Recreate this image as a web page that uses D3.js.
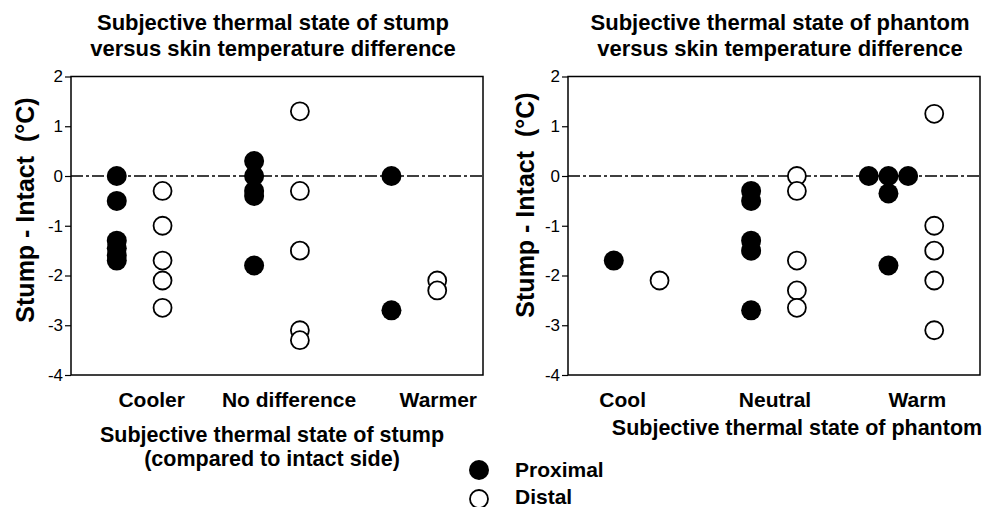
<!DOCTYPE html>
<html>
<head>
<meta charset="utf-8">
<script src="https://cdn.jsdelivr.net/npm/d3@7"></script>
<style>
  body { margin: 0; background: #fff; }
  text { font-family: "Liberation Sans", Arial, sans-serif; fill: #000; }
</style>
</head>
<body>
<script>
//data (degrees C, stump minus intact side)
var yTickValues = [-4, -3, -2, -1, 0, 1, 2];
var seriesNames = ["Proximal", "Distal"];

var stumpCategories = ["Cooler", "No difference", "Warmer"];
var stumpProximal = [[0, -0.5, -1.3, -1.45, -1.6, -1.7], [0.3, 0, -0.3, -0.4, -1.8], [0, -2.7]];
var stumpDistal = [[-0.3, -1.0, -1.7, -2.1, -2.65], [1.3, -0.3, -1.5, -3.1, -3.3], [-2.1, -2.3]];

var phantomCategories = ["Cool", "Neutral", "Warm"];
var phantomProximal = [[-1.7], [-0.3, -0.5, -1.3, -1.5, -2.7], [0, 0, 0, -0.35, -1.8]];
var phantomDistal = [[-2.1], [0, -0.3, -1.7, -2.3, -2.65], [1.25, -1.0, -1.5, -2.1, -3.1]];

//SVG area
var svgWidth = 991;
var svgHeight = 507;
var plotTop = 76.5;
var plotBottom = 375;
var plotWidth = 412;
var dotR = 10;

var svg = d3.select("body")
  .append("svg")
  .attr("width", svgWidth)
  .attr("height", svgHeight);

svg.append("rect")
  .attr("width", svgWidth)
  .attr("height", svgHeight)
  .attr("fill", "#fff");

//build point list for one panel, spreading equal values sideways
function buildPoints(proximal, distal) {
  var pts = [];
  [proximal, distal].forEach(function(series, s) {
    series.forEach(function(values, g) {
      var counts = {};
      values.forEach(function(v) { counts[v] = (counts[v] || 0) + 1; });
      var seen = {};
      values.forEach(function(v) {
        var k = seen[v] || 0;
        seen[v] = k + 1;
        pts.push({
          group: g,
          series: s,
          value: v,
          spread: k - (counts[v] - 1) / 2
        });
      });
    });
  });
  return pts;
}

function drawPanel(opts) {
  var g = svg.append("g")
    .attr("transform", `translate(${opts.left}, 0)`);

  //slot scale: each category takes 3 slots, proximal at 1, distal at 2
  var xScale = d3.scaleLinear()
    .domain([0, 9])
    .range([0, plotWidth]);
  var yScale = d3.scaleLinear()
    .domain([-4, 2])
    .range([plotBottom, plotTop]);

  //frame
  g.append("rect")
    .attr("x", 0)
    .attr("y", plotTop)
    .attr("width", plotWidth)
    .attr("height", plotBottom - plotTop)
    .attr("fill", "none")
    .attr("stroke", "#000")
    .attr("stroke-width", 1.5);

  //y axis
  var leftAxis = d3.axisLeft(yScale)
    .tickValues(yTickValues)
    .tickSize(6)
    .tickPadding(2)
    .tickFormat(d3.format("d"));
  var yAxis = g.append("g").call(leftAxis);
  yAxis.select(".domain").remove();
  yAxis.selectAll("line").attr("stroke-width", 1.2);
  yAxis.selectAll("text")
    .attr("font-size", 17)
    .attr("font-family", "Liberation Sans, Arial, sans-serif")
    .text(function(d) { return d < 0 ? "-" + Math.abs(d) : d; });

  //zero reference line
  g.append("line")
    .attr("x1", 0)
    .attr("x2", plotWidth)
    .attr("y1", yScale(0))
    .attr("y2", yScale(0))
    .attr("stroke", "#000")
    .attr("stroke-width", 1.6)
    .attr("stroke-dasharray", "12,3,3,3");

  //points
  var pts = buildPoints(opts.proximal, opts.distal);
  g.selectAll("circle.dot")
    .data(pts)
    .enter()
    .append("circle")
    .attr("class", "dot")
    .attr("cx", d => xScale(d.group * 3 + 1 + d.series + d.spread * 0.43))
    .attr("cy", d => yScale(d.value))
    .attr("r", d => d.series === 0 ? dotR : dotR - 1)
    .attr("fill", d => d.series === 0 ? "#000" : "#fff")
    .attr("stroke", "#000")
    .attr("stroke-width", d => d.series === 0 ? 0 : 1.8);

  //category labels
  g.selectAll("text.cat")
    .data(opts.categories)
    .enter()
    .append("text")
    .attr("class", "cat")
    .attr("x", (d, i) => xScale(i * 3 + 1.5) + opts.labelNudge[i])
    .attr("y", 407)
    .attr("text-anchor", "middle")
    .attr("font-size", 21)
    .attr("font-weight", "bold")
    .text(d => d);

  //y title
  g.append("text")
    .attr("transform", `translate(${opts.yTitleX}, ${opts.yTitleY}) rotate(-90)`)
    .attr("text-anchor", "middle")
    .attr("font-size", 25)
    .attr("font-weight", "bold")
    .attr("xml:space", "preserve")
    .text("Stump - Intact  (°C)");

  //top title
  var title = g.append("text")
    .attr("text-anchor", "middle")
    .attr("font-size", 22)
    .attr("font-weight", "bold");
  opts.title.forEach(function(line, i) {
    title.append("tspan")
      .attr("x", opts.titleX)
      .attr("y", 30 + i * 26)
      .text(line);
  });

  //x title
  var xTitle = g.append("text")
    .attr("text-anchor", "middle")
    .attr("font-size", 21.5)
    .attr("font-weight", "bold");
  opts.xTitle.forEach(function(line, i) {
    xTitle.append("tspan")
      .attr("x", opts.xTitleX)
      .attr("y", opts.xTitleY + i * 24)
      .text(line);
  });
}

drawPanel({
  left: 71,
  categories: stumpCategories,
  proximal: stumpProximal,
  distal: stumpDistal,
  labelNudge: [12, 12, 24],
  yTitleX: -37,
  yTitleY: 210,
  titleX: 202,
  title: ["Subjective thermal state of stump", "versus skin temperature difference"],
  xTitleX: 201,
  xTitleY: 442,
  xTitle: ["Subjective thermal state of stump", "(compared to intact side)"]
});

drawPanel({
  left: 568,
  categories: phantomCategories,
  proximal: phantomProximal,
  distal: phantomDistal,
  labelNudge: [-14, 1, 6],
  yTitleX: -34,
  yTitleY: 205,
  titleX: 212,
  title: ["Subjective thermal state of phantom", "versus skin temperature difference"],
  xTitleX: 229,
  xTitleY: 435,
  xTitle: ["Subjective thermal state of phantom"]
});

//legend
var legend = svg.append("g")
  .attr("transform", "translate(479, 470)");
legend.selectAll("circle")
  .data(seriesNames)
  .enter()
  .append("circle")
  .attr("cx", 0)
  .attr("cy", (d, i) => i * 29)
  .attr("r", (d, i) => i === 0 ? dotR : dotR - 1)
  .attr("fill", (d, i) => i === 0 ? "#000" : "#fff")
  .attr("stroke", "#000")
  .attr("stroke-width", (d, i) => i === 0 ? 0 : 1.8);
legend.selectAll("text")
  .data(seriesNames)
  .enter()
  .append("text")
  .attr("x", 36)
  .attr("y", (d, i) => 7 + i * 27)
  .attr("font-size", 21)
  .attr("font-weight", "bold")
  .text(d => d);
</script>
</body>
</html>
